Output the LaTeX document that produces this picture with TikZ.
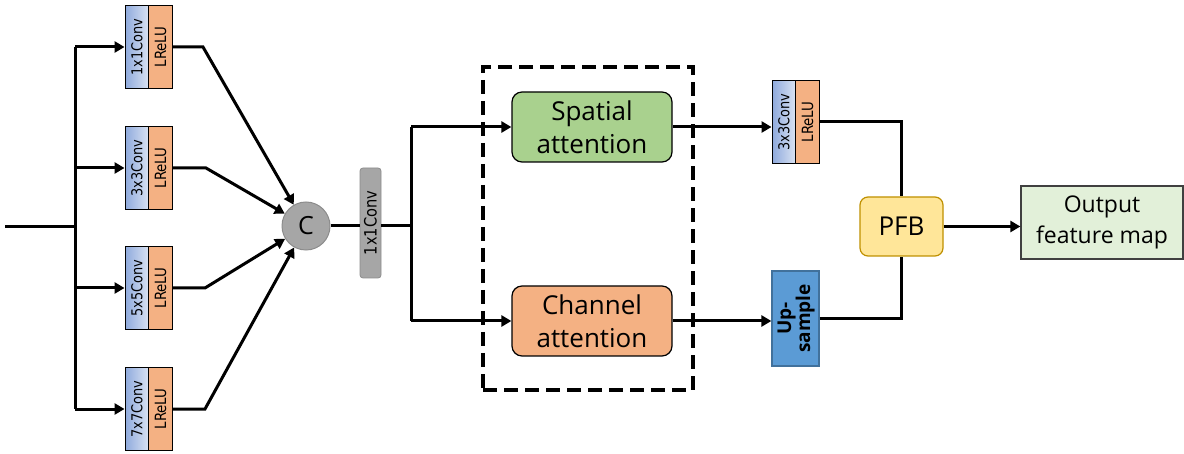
\documentclass[tikz,border=0pt]{standalone}
\usepackage{fontspec}
\setmainfont{Open Sans}
\newfontfamily\smallfont{DejaVu Sans}
\usetikzlibrary{arrows.meta}
\definecolor{convL}{HTML}{8FAADC}
\definecolor{convR}{HTML}{DAE3F3}
\definecolor{relu}{HTML}{F4B183}
\definecolor{spatial}{HTML}{A9D18E}
\definecolor{chan}{HTML}{F4B183}
\definecolor{upblue}{HTML}{5B9BD5}
\definecolor{upedge}{HTML}{41719C}
\definecolor{pfbfill}{HTML}{FFE699}
\definecolor{pfbedge}{HTML}{BF9000}
\definecolor{outfill}{HTML}{E2F0D9}
\definecolor{grayfill}{HTML}{A6A6A6}
\definecolor{grayedge}{HTML}{8C8C8C}
\newcommand{\vlab}[1]{\rotatebox{90}{\scalebox{0.86}[1]{#1}}}
\tikzset{
  conn/.style={line width=3pt},
  arr/.style={conn, -{Triangle[length=10pt,width=11pt]}},
  convbox/.style={draw, line width=1.4pt, left color=convL, right color=convR, minimum width=23.5pt, minimum height=83pt, inner sep=0pt, font=\smallfont\fontsize{15}{15}\selectfont},
  relubox/.style={draw, line width=1.4pt, fill=relu, minimum width=23.5pt, minimum height=83pt, inner sep=0pt, font=\smallfont\fontsize{15.5}{15}\selectfont},
  attbox/.style={draw, line width=1.2pt, rounded corners=10pt, minimum width=160pt, minimum height=70pt, align=center, inner sep=0pt, font=\fontsize{26}{33}\selectfont},
}
\begin{document}
\begin{tikzpicture}[x=1pt,y=-1pt]
\useasboundingbox (0,0) rectangle (1184,454);
% branch blocks
\node[convbox] (c1) at (137,47) {\vlab{1x1Conv}};
\node[relubox] (r1) at (160.5,47) {\vlab{LReLU}};
\node[convbox] (c2) at (137,168) {\vlab{3x3Conv}};
\node[relubox] (r2) at (160.5,168) {\vlab{LReLU}};
\node[convbox] (c3) at (137,288) {\vlab{5x5Conv}};
\node[relubox] (r3) at (160.5,288) {\vlab{LReLU}};
\node[convbox] (c4) at (137,409) {\vlab{7x7Conv}};
\node[relubox] (r4) at (160.5,409) {\vlab{LReLU}};
% concat
\node[circle, fill=grayfill, draw=grayedge, line width=1pt, minimum size=48pt, inner sep=0pt, font=\fontsize{25}{25}\selectfont] (C) at (306,226) {C};
\node[draw=grayedge, fill=grayfill, line width=0.8pt, rounded corners=3pt, minimum width=21pt, minimum height=110pt, inner sep=0pt, font=\smallfont\fontsize{17}{17}\selectfont] (g) at (370.5,223) {\vlab{1x1Conv}};
% attention
\node[draw, line width=3.2pt, dash pattern=on 14pt off 7pt, minimum width=210pt, minimum height=323pt, inner sep=0pt] (dbox) at (588,228.5) {};
\node[attbox, fill=spatial] (sa) at (592,127) {Spatial\\attention};
\node[attbox, fill=chan] (ca) at (592,321) {Channel\\attention};
% right part
\node[convbox] (c5) at (784,122) {\vlab{3x3Conv}};
\node[relubox] (r5) at (807.5,122) {\vlab{LReLU}};
\node[draw=upedge, fill=upblue, line width=1.2pt, minimum width=47pt, minimum height=95pt, inner sep=0pt, font=\fontsize{19}{25}\selectfont\bfseries] (up) at (795.5,318.5) {\rotatebox{90}{\begin{tabular}{@{}c@{}}Up-\\[-6pt]sample\end{tabular}}};
\node[draw=pfbedge, fill=pfbfill, line width=1.2pt, rounded corners=8pt, minimum width=83pt, minimum height=59pt, inner sep=0pt, font=\fontsize{26}{26}\selectfont] (pfb) at (901.5,226.5) {PFB};
\node[draw=black!75, fill=outfill, line width=1.2pt, minimum width=162pt, minimum height=73pt, inner sep=0pt, align=center, font=\fontsize{23}{31}\selectfont] (out) at (1102,222.5) {Output\\feature map};
% coordinates
\coordinate (in) at (5,227);
\coordinate (j) at (75,227);
\coordinate (t1) at (75,47);
\coordinate (t2) at (75,168);
\coordinate (t3) at (75,288);
\coordinate (t4) at (75,409);
\coordinate (b1) at (203,47);
\coordinate (b2) at (206,168);
\coordinate (b3) at (205,288);
\coordinate (b4) at (205,409);
\coordinate (s) at (411,226);
\coordinate (s1) at (411,127);
\coordinate (s2) at (411,321);
% connectors
\draw[conn] (in) -- (j);
\draw[conn] (t1) -- (t4);
\draw[arr] (t1) -- (c1.west);
\draw[arr] (t2) -- (c2.west);
\draw[arr] (t3) -- (c3.west);
\draw[arr] (t4) -- (c4.west);
\draw[arr] (r1.east) -- (b1) -- (C);
\draw[arr] (r2.east) -- (b2) -- (C);
\draw[arr] (r3.east) -- (b3) -- (C);
\draw[arr] (r4.east) -- (b4) -- (C);
\draw[conn] (C.east) -- (C.east -| g.west);
\draw[conn] (C.east -| g.east) -- (s);
\draw[conn] (s1) -- (s2);
\draw[arr] (s1) -- (sa.west);
\draw[arr] (s2) -- (ca.west);
\draw[arr] (sa.east) -- (sa.east -| c5.west);
\draw[arr] (ca.east) -- (ca.east -| up.west);
\draw[conn] (r5.east) -| (pfb.north);
\draw[conn] (up.east) -| (pfb.south);
\draw[arr] (pfb.east) -- (pfb.east -| out.west);
\end{tikzpicture}
\end{document}
